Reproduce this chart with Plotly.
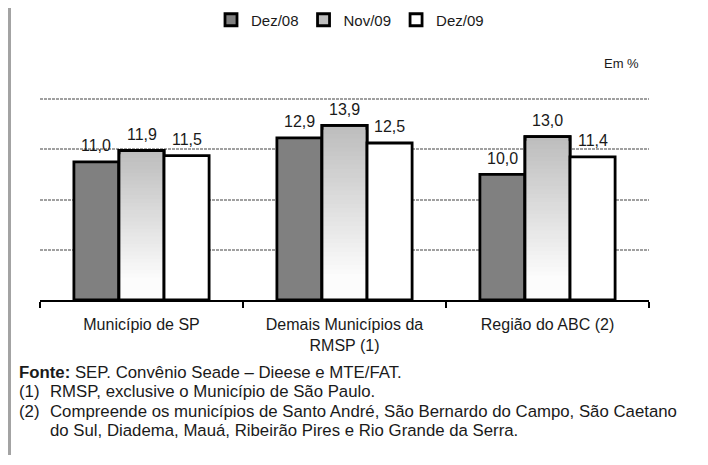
import plotly.graph_objects as go

# ---- data ----
categories = ["Município de SP", "Demais Municípios da<br>RMSP (1)", "Região do ABC (2)"]
series_names = ["Dez/08", "Nov/09", "Dez/09"]
dez08 = [11.0, 12.9, 10.0]
nov09 = [11.9, 13.9, 13.0]
dez09 = [11.5, 12.5, 11.4]
y_ticks = [0, 4, 8, 12, 16]

# ---- layout constants (page pixels; the page body has an 8px margin) ----
OFF = 8
W, H = 708 - OFF, 465 - OFF
PLOT_L, PLOT_R = 40, 649          # page x of plot area
BASE_Y = 300                      # page y of value 0
PX_PER_UNIT = 201 / 16            # value 16 sits at page y 99
TOP_VAL = 16.24
PLOT_T = BASE_Y - TOP_VAL * PX_PER_UNIT

L = PLOT_L - OFF
R = W - (PLOT_R - OFF)
T = PLOT_T - OFF
B = H - (BASE_Y - OFF)
PW = W - L - R
PH = H - T - B
FONT = "Liberation Sans, Arial, sans-serif"
TXT = "#1a1a1a"

def px2x(px):
    return (px - OFF - L) / PW

def py2y(py):
    return (H - B - (py - OFF)) / PH

bar_w = 0.222
offsets = [-0.333, -0.111, 0.111]
outline = dict(color="black", width=2.8)

fig = go.Figure()

# Dez/08 (solid gray)
fig.add_trace(go.Bar(x=categories, y=dez08, name=series_names[0],
                     width=bar_w, offset=offsets[0],
                     marker=dict(color="#808080", line=outline),
                     hoverinfo="skip"))

# Nov/09 gradient fill (layers of decreasing height, top colour first)
N = 40
for k in range(N):
    t = k / N
    g = int(round(189 + (252 - 189) * min(t / 0.85, 1.0)))
    frac = 1 - k / N
    first = (k == 0)
    fig.add_trace(go.Bar(x=categories, y=[v * frac for v in nov09],
                         name=series_names[1],
                         width=bar_w, offset=offsets[1],
                         marker=dict(color=f"rgb({g},{g},{g})",
                                     line=outline if first else dict(width=0)),
                         showlegend=first, hoverinfo="skip"))

# Nov/09 outline
fig.add_trace(go.Bar(x=categories, y=nov09, name=series_names[1],
                     width=bar_w, offset=offsets[1], showlegend=False,
                     marker=dict(color="rgba(0,0,0,0)", line=outline),
                     hoverinfo="skip"))

# Dez/09 (white)
fig.add_trace(go.Bar(x=categories, y=dez09, name=series_names[2],
                     width=bar_w, offset=offsets[2],
                     marker=dict(color="white", line=outline),
                     hoverinfo="skip"))

# value labels
annotations = []
for si, vals in enumerate([dez08, nov09, dez09]):
    for i, v in enumerate(vals):
        annotations.append(dict(
            x=i + offsets[si] + bar_w / 2, y=v, xref="x", yref="y",
            text=f"{v:.1f}".replace(".", ","), showarrow=False,
            yanchor="middle", yshift=16,
            font=dict(family=FONT, size=16, color=TXT)))

# unit note
annotations.append(dict(x=px2x(621), y=py2y(63), xref="paper", yref="paper",
                        text="Em %", showarrow=False, xanchor="center", yanchor="middle",
                        font=dict(family=FONT, size=13, color=TXT)))

# footer
foot_font = dict(family=FONT, size=16.8, color=TXT)
footer = [
    (17, 373, "<b>Fonte:</b> SEP. Convênio Seade – Dieese e MTE/FAT."),
    (17, 392, "(1)"),
    (48, 392, "RMSP, exclusive o Município de São Paulo."),
    (17, 412, "(2)"),
    (48, 412, "Compreende os municípios de Santo André, São Bernardo do Campo, São Caetano"),
    (48, 431, "do Sul, Diadema, Mauá, Ribeirão Pires e Rio Grande da Serra."),
]
for fx, fy, ftxt in footer:
    annotations.append(dict(x=px2x(fx), y=py2y(fy), xref="paper", yref="paper",
                            text=ftxt, showarrow=False, xanchor="left", yanchor="middle",
                            font=foot_font))

fig.update_layout(
    width=W, height=H,
    margin=dict(l=L, r=R, t=T, b=B, pad=0, autoexpand=False),
    paper_bgcolor="white", plot_bgcolor="white",
    barmode="overlay",
    font=dict(family=FONT, size=15, color=TXT),
    showlegend=True,
    legend=dict(orientation="h", x=px2x(350), xanchor="center",
                y=py2y(20), yanchor="middle",
                font=dict(family=FONT, size=15, color=TXT),
                bgcolor="rgba(0,0,0,0)", itemwidth=30, traceorder="normal"),
    annotations=annotations,
    shapes=[dict(type="line", xref="paper", yref="paper",
                 x0=px2x(9.5), x1=px2x(9.5), y0=py2y(OFF), y1=py2y(455),
                 line=dict(color="#a3a3a3", width=3))],
)

fig.update_xaxes(type="category", showline=True, linecolor="black", linewidth=1.6,
                 ticks="outside", tickson="boundaries", ticklen=6, tickwidth=1.6,
                 tickcolor="black", showgrid=False, ticklabelstandoff=9,
                 tickfont=dict(family=FONT, size=16, color=TXT))
fig.update_yaxes(range=[0, TOP_VAL], tickvals=y_ticks, showticklabels=False,
                 showgrid=True, gridcolor="#a0a0a0", gridwidth=1.6, griddash="3px,1px",
                 zeroline=False, showline=False, ticks="")

fig.write_html("out.html")
